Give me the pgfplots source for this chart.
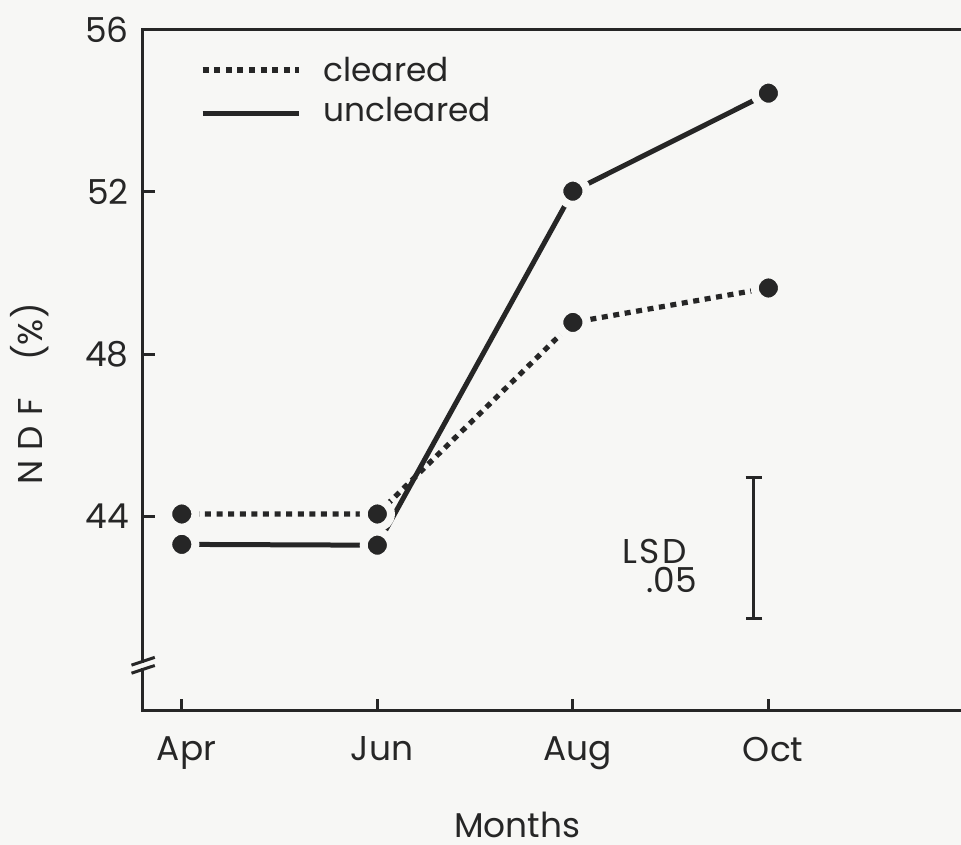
\documentclass[border=0pt]{standalone}
\usepackage{pgfplots}
\pgfplotsset{compat=1.18}
\usepackage{fontspec}
\setmainfont{Poppins}
\definecolor{bg}{RGB}{247,247,245}
\definecolor{ink}{RGB}{38,38,38}
\newcommand{\lbl}{\fontsize{8.6}{10}\selectfont}
\newcommand{\leg}{\fontsize{8.2}{10}\selectfont}
\begin{document}
\begin{tikzpicture}
\path[use as bounding box, fill=bg] (-35.7pt,-33.5pt) rectangle (204.6pt,177.75pt);
\begin{axis}[
 at={(0,0)}, anchor=south west, scale only axis,
 width=204.6pt, height=170.25pt,
 xmin=-0.1995, xmax=3.985, ymin=39.19, ymax=56,
 clip=false,
 axis line style={draw=none},
 xtick={0,1,2,3}, xticklabels={Apr,Jun,Aug,Oct},
 ytick={44,48,52,56},
 tick align=inside, tick pos=left,
 major tick length=3pt,
 every tick/.style={ink, line width=0.75pt},
 tick label style={font=\lbl, text=ink},
 xticklabel style={yshift=-3pt, xshift=1.2pt},
 /pgf/number format/assume math mode=true,
]
% axis frame (no right side)
\draw[ink, line width=0.75pt, line cap=rect] (rel axis cs:1,1) -- (rel axis cs:0,1) -- (rel axis cs:0,0) -- (rel axis cs:1,0);
% axis break
\draw[bg, line width=3pt] (axis cs:-0.1995,40.25) -- (axis cs:-0.1995,40.38);
\draw[ink, line width=0.75pt] (axis cs:-0.257,40.32) -- (axis cs:-0.138,40.51);
\draw[ink, line width=0.75pt] (axis cs:-0.257,40.12) -- (axis cs:-0.138,40.31);

% uncleared
\addplot[ink, line width=1.25pt, mark=*, mark size=3.4pt,
  mark options={solid, fill=ink, draw=bg, line width=2pt}]
  coordinates {(0,43.30) (1,43.28) (2,52.02) (3,54.44)};
% cleared
\addplot[ink, line width=1.3pt, dash pattern=on 1.5pt off 1.4pt, mark=*, mark size=3.4pt,
  mark options={solid, fill=ink, draw=bg, line width=2pt}]
  coordinates {(0,44.05) (1,44.05) (2,48.78) (3,49.63)};

% LSD bar
\addplot[draw=none, mark=none,
  error bars/.cd, y dir=both, y explicit,
  error bar style={draw=ink, line width=0.75pt, solid},
  error mark options={draw=ink, line width=0.75pt, mark size=2.1pt, rotate=90}]
  coordinates {(2.926,43.21) +- (0,1.73)};

% legend
\draw[ink, line width=1.3pt, dash pattern=on 1.5pt off 1.4pt] (axis cs:0.107,55.01) -- (axis cs:0.598,55.01);
\draw[ink, line width=1.25pt] (axis cs:0.107,53.93) -- (axis cs:0.598,53.93);
\node[anchor=base west, inner sep=0pt, font=\leg, text=ink] at (axis cs:0.721,54.72) {cleared};
\node[anchor=base west, inner sep=0pt, font=\leg, text=ink] at (axis cs:0.721,53.73) {uncleared};

% labels
\node[rotate=90, inner sep=0pt, font=\lbl, text=ink] at (axis cs:-0.777,47.01) {N\hspace{0.3em}D\hspace{0.3em}F\hspace{1.1em}(\%)};
\node[anchor=base, inner sep=0pt, font=\lbl, text=ink] at (axis cs:1.716,36.07) {Months};
\node[anchor=base east, inner sep=0pt, font=\lbl, text=ink] at (axis cs:2.588,42.84) {L\hspace{0.08em}S\hspace{0.08em}D};
\node[anchor=base east, inner sep=0pt, font=\lbl, text=ink] at (axis cs:2.639,42.10) {.05};
\end{axis}
\end{tikzpicture}
\end{document}
